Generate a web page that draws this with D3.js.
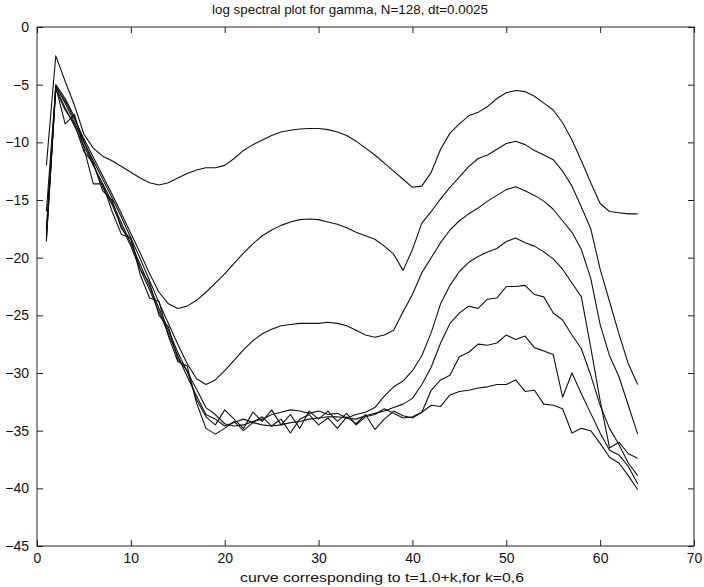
<!DOCTYPE html>
<html>
<head>
<meta charset="utf-8">
<script src="https://cdn.jsdelivr.net/npm/d3@7"></script>
<style>
  html, body { margin: 0; padding: 0; background: #fff; }
  svg { display: block; }
  text { font-family: "Liberation Sans", Arial, sans-serif; fill: #111; }
</style>
</head>
<body>
<svg id="chart" width="704" height="587"></svg>
<script>
// ---- data ----
const title = "log spectral plot for gamma, N=128, dt=0.0025";
const xLabel = "curve corresponding to t=1.0+k,for k=0,6";
const xTicks = [0, 10, 20, 30, 40, 50, 60, 70];
const yTicks = [0, -5, -10, -15, -20, -25, -30, -35, -40, -45];
const xIndex = d3.range(1, 65); // 1..64

const curveK0 = [-12.0,-2.5,-4.7,-6.8,-9.3,-10.5,-11.2,-11.6,-12.1,-12.6,-13.1,-13.5,-13.7,-13.5,-13.1,-12.7,-12.4,-12.2,-12.2,-12.0,-11.4,-10.7,-10.2,-9.8,-9.4,-9.1,-8.95,-8.85,-8.8,-8.8,-8.9,-9.1,-9.4,-9.9,-10.5,-11.1,-11.8,-12.5,-13.2,-13.9,-13.8,-12.6,-10.6,-9.2,-8.4,-7.7,-7.4,-6.9,-6.2,-5.7,-5.5,-5.6,-6.0,-6.6,-7.2,-8.3,-9.8,-11.6,-13.5,-15.3,-16.0,-16.1,-16.2,-16.2];
const curveK1 = [-16.0,-5.2,-6.4,-8.0,-9.7,-11.3,-12.9,-14.5,-16.2,-17.9,-19.6,-21.4,-23.0,-24.0,-24.4,-24.2,-23.7,-23.0,-22.2,-21.4,-20.5,-19.6,-18.8,-18.1,-17.6,-17.2,-16.9,-16.7,-16.65,-16.7,-16.9,-17.1,-17.4,-17.8,-18.1,-18.4,-19.0,-19.7,-21.1,-19.3,-17.0,-16.0,-14.9,-13.9,-13.0,-12.1,-11.4,-11.1,-10.6,-10.1,-9.9,-10.2,-10.7,-11.1,-11.5,-12.5,-13.8,-15.6,-17.5,-21.0,-23.8,-26.6,-29.2,-31.0];
const curveK2 = [-17.5,-5.1,-6.6,-8.3,-10.0,-11.6,-13.2,-14.8,-16.5,-18.3,-20.1,-22.0,-23.9,-25.7,-27.5,-29.2,-30.5,-31.0,-30.6,-29.8,-28.9,-28.0,-27.2,-26.6,-26.2,-25.9,-25.8,-25.7,-25.7,-25.7,-25.6,-25.7,-25.9,-26.3,-26.7,-26.9,-26.7,-26.3,-24.7,-23.2,-21.3,-20.0,-18.7,-17.6,-16.8,-16.2,-15.7,-15.1,-14.6,-14.1,-13.85,-14.2,-14.6,-15.1,-15.8,-16.8,-17.8,-19.3,-21.8,-25.8,-28.5,-30.3,-32.8,-35.3];
const curveK3 = [-18.0,-5.3,-7.0,-8.6,-10.3,-12.0,-13.6,-15.2,-17.0,-18.8,-20.6,-22.5,-24.4,-26.3,-28.2,-29.9,-31.4,-33.0,-33.6,-34.4,-34.6,-34.5,-34.2,-34.0,-33.6,-33.4,-33.2,-33.3,-33.5,-33.3,-33.6,-33.5,-33.9,-33.6,-33.4,-33.0,-32.0,-31.2,-30.7,-29.8,-28.5,-26.5,-24.0,-22.4,-21.2,-20.4,-19.9,-19.5,-19.2,-18.6,-18.3,-18.7,-19.0,-19.5,-20.1,-21.0,-22.2,-23.4,-27.8,-32.4,-36.5,-36.0,-37.0,-37.4];
const curveK4 = [-18.2,-5.0,-6.2,-7.8,-9.9,-11.9,-13.9,-15.4,-17.3,-19.0,-21.0,-22.8,-24.7,-26.6,-28.5,-30.3,-32.0,-33.6,-34.0,-34.6,-34.3,-34.0,-34.3,-34.5,-34.6,-34.5,-34.3,-34.2,-34.0,-33.9,-33.8,-33.8,-33.9,-34.0,-33.7,-33.5,-33.3,-33.0,-32.7,-32.2,-31.0,-29.5,-27.4,-25.7,-24.8,-24.2,-24.4,-23.6,-23.5,-22.5,-22.5,-22.4,-23.2,-23.4,-24.8,-25.4,-26.7,-27.9,-30.2,-32.8,-34.8,-36.2,-37.8,-38.9];
const curveK5 = [-18.4,-5.4,-7.2,-8.4,-10.8,-11.8,-14.2,-15.0,-17.5,-18.4,-21.0,-22.2,-25.0,-26.0,-28.8,-29.8,-32.3,-33.8,-34.5,-33.2,-34.0,-34.8,-33.4,-34.2,-33.2,-34.5,-33.6,-34.8,-33.3,-34.0,-33.3,-34.2,-33.5,-34.5,-33.8,-33.6,-33.1,-33.5,-33.9,-33.8,-33.4,-31.5,-30.6,-30.2,-28.6,-28.2,-27.5,-27.6,-27.4,-26.7,-27.1,-26.8,-27.8,-28.1,-28.4,-32.1,-30.0,-31.8,-33.5,-35.2,-36.7,-37.1,-38.1,-39.6];
const curveK6 = [-18.6,-5.2,-8.4,-7.6,-10.5,-13.6,-13.6,-16.0,-18.0,-18.3,-21.5,-23.5,-23.8,-26.8,-29.0,-29.4,-32.6,-34.8,-35.3,-34.8,-34.2,-35.0,-34.3,-33.8,-34.6,-34.0,-35.2,-34.0,-33.6,-34.5,-33.9,-34.8,-33.8,-34.4,-33.6,-34.9,-34.0,-33.3,-33.7,-33.9,-33.4,-32.8,-32.9,-31.9,-31.6,-31.5,-31.3,-31.2,-31.0,-31.0,-30.6,-31.6,-31.5,-32.7,-32.8,-33.1,-35.2,-34.8,-35.0,-36.1,-37.3,-37.8,-38.9,-40.1];

const curves = [curveK0, curveK1, curveK2, curveK3, curveK4, curveK5, curveK6];

// ---- layout ----
const svg = d3.select("#chart");
const L = 37, R = 694, T = 27, B = 546;
const x = d3.scaleLinear().domain([0, 70]).range([L, R]);
const y = d3.scaleLinear().domain([-45, 0]).range([B, T]);
const fmt = d => d < 0 ? "\u2212" + Math.abs(d) : String(d);

// frame
svg.append("rect").attr("x", L).attr("y", T).attr("width", R - L).attr("height", B - T)
  .attr("fill", "none").attr("stroke", "#222").attr("stroke-width", 1);

// axes (ticks inward)
const tk = 6;
const gB = svg.append("g").attr("transform", `translate(0,${B})`)
  .call(d3.axisBottom(x).tickValues(xTicks).tickSizeInner(-tk).tickSizeOuter(0).tickPadding(tk + 1).tickFormat(fmt));
const gT = svg.append("g").attr("transform", `translate(0,${T})`)
  .call(d3.axisTop(x).tickValues(xTicks).tickSizeInner(-tk).tickSizeOuter(0).tickFormat(""));
const gL = svg.append("g").attr("transform", `translate(${L},0)`)
  .call(d3.axisLeft(y).tickValues(yTicks).tickSizeInner(-tk).tickSizeOuter(0).tickPadding(tk + 2).tickFormat(fmt));
const gR = svg.append("g").attr("transform", `translate(${R},0)`)
  .call(d3.axisRight(y).tickValues(yTicks).tickSizeInner(-tk).tickSizeOuter(0).tickFormat(""));
[gB, gT, gL, gR].forEach(g => {
  g.select(".domain").remove();
  g.selectAll("line").attr("stroke", "#222");
  g.selectAll("text").style("font-size", "14px").style("font-family", "'Liberation Sans', Arial, sans-serif").attr("fill", "#111");
});

// curves
const line = d3.line().x((d, i) => x(xIndex[i])).y(d => y(d));
svg.append("g").selectAll("path").data(curves).join("path")
  .attr("d", line).attr("fill", "none").attr("stroke", "#111")
  .attr("stroke-width", 1.1).attr("stroke-linejoin", "round");

// title and x label
svg.append("text").attr("x", 350).attr("y", 14).attr("text-anchor", "middle")
  .style("font-size", "13.5px").attr("textLength", 276).attr("lengthAdjust", "spacingAndGlyphs").text(title);
svg.append("text").attr("x", 382).attr("y", 582).attr("text-anchor", "middle")
  .style("font-size", "13.5px").attr("textLength", 284).attr("lengthAdjust", "spacingAndGlyphs").text(xLabel);
</script>
</body>
</html>
